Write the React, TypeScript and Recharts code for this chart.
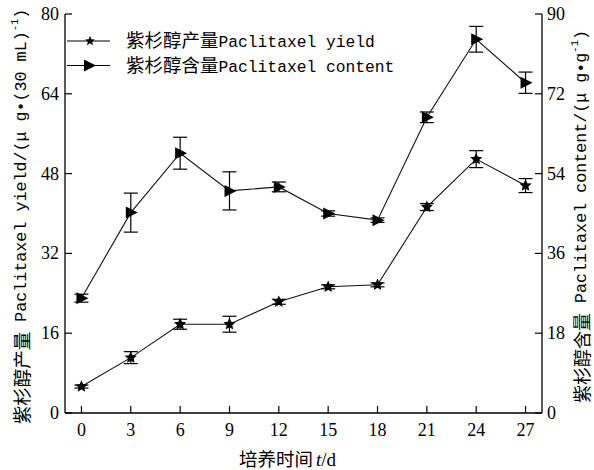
import React from 'react';
import { LineChart, Line, XAxis, YAxis, ErrorBar, Legend } from 'recharts';

// Culture time (days)
const days = [0, 3, 6, 9, 12, 15, 18, 21, 24, 27];
// Paclitaxel yield, μg·(30 mL)⁻¹ (left axis)
const yieldVals = [5.3, 11.1, 17.8, 17.8, 22.3, 25.3, 25.7, 41.3, 50.9, 45.6];
const yieldErr = [0.3, 1.2, 1.0, 1.6, 0.5, 0.4, 0.4, 0.7, 1.7, 1.4];
// Paclitaxel content, μg·g⁻¹ (right axis)
const contentVals = [25.9, 45.2, 58.6, 50.1, 51.0, 45.0, 43.5, 66.7, 84.3, 74.5];
const contentErr = [0.9, 4.4, 3.6, 4.3, 1.1, 0.6, 0.5, 1.2, 2.9, 2.4];

const xTicks = [0, 3, 6, 9, 12, 15, 18, 21, 24, 27];
const leftTicks = [0, 16, 32, 48, 64, 80];
const rightTicks = [0, 18, 36, 54, 72, 90];

const data = days.map((d, i) => ({
  day: d,
  yieldVal: yieldVals[i],
  yieldErr: yieldErr[i],
  contentVal: contentVals[i],
  contentErr: contentErr[i],
}));

const serif = '"Liberation Serif", "DejaVu Serif", serif';
const mono = '"Liberation Mono", "DejaVu Sans Mono", monospace';
const cjk = '"Noto Sans CJK SC", sans-serif';

function starPath(cx: number, cy: number, R: number, r: number): string {
  const pts: string[] = [];
  for (let k = 0; k < 10; k++) {
    const rad = k % 2 === 0 ? R : r;
    const a = -Math.PI / 2 + (k * Math.PI) / 5;
    pts.push(`${(cx + rad * Math.cos(a)).toFixed(2)},${(cy + rad * Math.sin(a)).toFixed(2)}`);
  }
  return 'M' + pts.join('L') + 'Z';
}

function triPath(cx: number, cy: number): string {
  return `M${cx - 5},${cy - 6}L${cx + 7},${cy}L${cx - 5},${cy + 6}Z`;
}

const StarDot = (props: any) => {
  const { cx, cy, index } = props;
  if (cx == null || cy == null) return <g key={`s${index}`} />;
  return <path key={`s${index}`} d={starPath(cx, cy, 6.4, 3.0)} fill="#000" />;
};

const TriDot = (props: any) => {
  const { cx, cy, index } = props;
  if (cx == null || cy == null) return <g key={`t${index}`} />;
  return <path key={`t${index}`} d={triPath(cx, cy)} fill="#000" />;
};

const XTick = (props: any) => {
  const { x, y, payload } = props;
  return (
    <g>
      <line x1={x} y1={y} x2={x} y2={y - 7} stroke="#000" strokeWidth={1.2} />
      <text x={x} y={y + 23} textAnchor="middle" fontFamily={serif} fontSize={18} fill="#000">
        {payload.value}
      </text>
    </g>
  );
};

const LeftTick = (props: any) => {
  const { x, y, payload } = props;
  return (
    <g>
      <line x1={x} y1={y} x2={x + 7} y2={y} stroke="#000" strokeWidth={1.2} />
      <text x={x - 6} y={y + 6} textAnchor="end" fontFamily={serif} fontSize={18} fill="#000">
        {payload.value}
      </text>
    </g>
  );
};

const RightTick = (props: any) => {
  const { x, y, payload } = props;
  return (
    <g>
      <line x1={x} y1={y} x2={x - 7} y2={y} stroke="#000" strokeWidth={1.2} />
      <text x={x + 5} y={y + 6} textAnchor="start" fontFamily={serif} fontSize={18} fill="#000">
        {payload.value}
      </text>
    </g>
  );
};

const LeftLabel = (props: any) => {
  const vb = props.viewBox;
  const cx = vb.x + 21;
  const cy = vb.y + vb.height / 2 + 3;
  return (
    <text
      x={cx}
      y={cy}
      transform={`rotate(-90 ${cx} ${cy})`}
      textAnchor="middle"
      dominantBaseline="central"
      fill="#000"
    >
      <tspan fontFamily={cjk} fontSize={18.5}>紫杉醇产量</tspan>
      <tspan fontFamily={mono} fontSize={16.7}> Paclitaxel yield/(μ g•(30 mL)</tspan>
      <tspan fontFamily={mono} fontSize={10.5} dy={-6}>-1</tspan>
      <tspan fontFamily={mono} fontSize={16.7} dy={6}>)</tspan>
    </text>
  );
};

const RightLabel = (props: any) => {
  const vb = props.viewBox;
  const cx = vb.x + 39;
  const cy = vb.y + vb.height / 2 + 3;
  return (
    <text
      x={cx}
      y={cy}
      transform={`rotate(-90 ${cx} ${cy})`}
      textAnchor="middle"
      dominantBaseline="central"
      fill="#000"
    >
      <tspan fontFamily={cjk} fontSize={18}>紫杉醇含量</tspan>
      <tspan fontFamily={mono} fontSize={16.7}> Paclitaxel content/(μ g•g</tspan>
      <tspan fontFamily={mono} fontSize={10.5} dy={-6}>-1</tspan>
      <tspan fontFamily={mono} fontSize={16.7} dy={6}>)</tspan>
    </text>
  );
};

const XLabel = (props: any) => {
  const vb = props.viewBox;
  const cx = vb.x + vb.width / 2 - 16;
  const y = vb.y + 53;
  return (
    <text x={cx} y={y} textAnchor="middle" fill="#000">
      <tspan fontFamily={cjk} fontSize={18.5}>培养时间</tspan>
      <tspan fontFamily={serif} fontSize={19} fontStyle="italic" dx={3}>t</tspan>
      <tspan fontFamily={serif} fontSize={19}>/d</tspan>
    </text>
  );
};

const legendItems = [
  { name: '紫杉醇产量', en: 'Paclitaxel yield', shape: 'star' },
  { name: '紫杉醇含量', en: 'Paclitaxel content', shape: 'tri' },
];

const LegendBox = () => (
  <svg width={360} height={58} style={{ overflow: 'visible' }}>
    {legendItems.map((it, i) => {
      const cy = 14 + i * 24.5;
      return (
        <g key={it.name}>
          <line x1={2} y1={cy} x2={45} y2={cy} stroke="#000" strokeWidth={1.2} />
          {it.shape === 'star' ? (
            <path d={starPath(25, cy, 5.2, 2.3)} fill="#000" />
          ) : (
            <path d={triPath(24, cy)} fill="#000" />
          )}
          <text x={61} y={cy + 6} fill="#000">
            <tspan fontFamily={cjk} fontSize={18.5}>{it.name}</tspan>
            <tspan fontFamily={mono} fontSize={16.3}>{it.en}</tspan>
          </text>
        </g>
      );
    })}
  </svg>
);

export default function App() {
  return (
    <div style={{ position: 'absolute', left: 0, top: 0, width: 594, height: 470, background: '#fff' }}>
      <LineChart
        width={594}
        height={470}
        data={data}
        margin={{ top: 14, right: 0, bottom: 0, left: 0 }}
      >
        <XAxis
          dataKey="day"
          type="number"
          domain={[-1, 28]}
          ticks={xTicks}
          interval={0}
          height={57}
          tickSize={0}
          tickMargin={0}
          tickLine={false}
          tick={<XTick />}
          axisLine={{ stroke: '#000', strokeWidth: 1.3 }}
          label={<XLabel />}
        />
        <YAxis
          yAxisId="left"
          orientation="left"
          domain={[0, 80]}
          ticks={leftTicks}
          interval={0}
          width={65}
          tickSize={0}
          tickMargin={0}
          tickLine={false}
          tick={<LeftTick />}
          axisLine={{ stroke: '#000', strokeWidth: 1.3 }}
          label={<LeftLabel />}
        />
        <YAxis
          yAxisId="right"
          orientation="right"
          domain={[0, 90]}
          ticks={rightTicks}
          interval={0}
          width={52}
          tickSize={0}
          tickMargin={0}
          tickLine={false}
          tick={<RightTick />}
          axisLine={{ stroke: '#000', strokeWidth: 1.3 }}
          label={<RightLabel />}
        />
        <Legend
          layout="horizontal"
          verticalAlign="middle"
          align="center"
          content={<LegendBox />}
          wrapperStyle={{ left: 65, top: 27, width: 360, height: 58 }}
        />
        <Line
          yAxisId="left"
          type="linear"
          dataKey="yieldVal"
          stroke="#111"
          strokeWidth={1.1}
          dot={StarDot}
          activeDot={false}
          isAnimationActive={false}
        >
          <ErrorBar dataKey="yieldErr" width={7} stroke="#000" strokeWidth={1.2} direction="y" />
        </Line>
        <Line
          yAxisId="right"
          type="linear"
          dataKey="contentVal"
          stroke="#111"
          strokeWidth={1.1}
          dot={TriDot}
          activeDot={false}
          isAnimationActive={false}
        >
          <ErrorBar dataKey="contentErr" width={7} stroke="#000" strokeWidth={1.2} direction="y" />
        </Line>
      </LineChart>
    </div>
  );
}
